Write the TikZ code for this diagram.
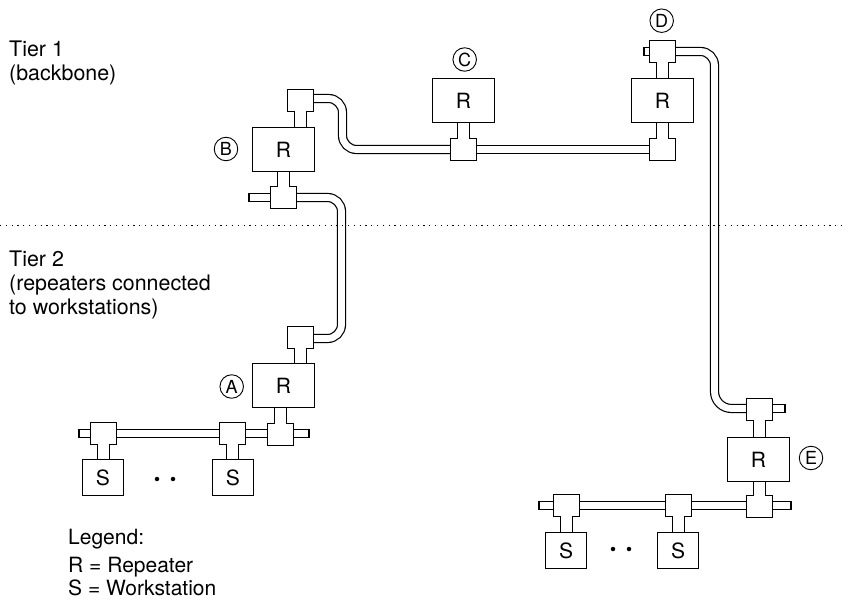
\documentclass[tikz,border=0pt]{standalone}
\usepackage{fontspec}
\setmainfont{TeX Gyre Heros}
\usetikzlibrary{backgrounds,calc}
\newcommand{\txtfont}{\fontsize{21}{24}\selectfont}
\newcommand{\tierfont}{\fontsize{21.4}{24}\selectfont}
\newcommand{\markfont}{\fontsize{18}{20}\selectfont}
\tikzset{
  x=1pt,y=-1pt,
  every node/.style={font=\txtfont},
  boxnode/.style={draw,fill=white,line width=1.2pt,minimum width=62pt,minimum height=44pt,inner sep=0pt},
  stationnode/.style={draw,fill=white,line width=1.2pt,minimum width=41pt,minimum height=36pt,inner sep=0pt},
  tapnode/.style={draw,fill=white,line width=1.2pt,minimum width=26pt,minimum height=22pt,inner sep=0pt},
  stubnode/.style={draw,fill=white,line width=1.2pt,minimum height=8pt,inner sep=0pt},
  cable/.style={draw,line width=1.2pt,double=white,double distance=6.8pt,rounded corners=#1},
  cable/.default=14pt,
  neckline/.style={draw,line width=1.2pt,double=white,double distance=10.8pt},
  neckpatch/.style={draw=white,line width=10.8pt},
  letter/.style={draw,circle,line width=.9pt,minimum size=23.5pt,inner sep=0pt,font=\markfont},
  tiertext/.style={align=left,anchor=base west,inner sep=0pt},
  divider/.style={line width=1.2pt,dash pattern=on 1.2pt off 4.6pt},
  dotnode/.style={fill,circle,minimum size=4.5pt,inner sep=0pt},
}
\newcommand{\neckjoin}[4]{%
  \begin{scope}[on background layer]
    \draw[neckline] (#1.#2) -- (#1.#2 |- #3.#4);
  \end{scope}
  \draw[neckpatch] ($(#1.#2)+(0,-1)$) -- ($(#1.#2)+(0,1)$);
}
\begin{document}
\begin{tikzpicture}
\useasboundingbox (0,0) rectangle (844,599);
% dotted tier divider
\coordinate (divL) at (0,225.5);
\coordinate (divR) at (844,225.5);
\draw[divider] (divL) -- (divR);
% stubs
\node[stubnode,minimum width=22pt] (stubB) at (260,197.5) {};
\node[stubnode,minimum width=12pt] (stubD) at (650,51.5) {};
\node[stubnode,minimum width=22pt] (stubE) at (774,408.5) {};
\node[stubnode,minimum width=22pt] (stubAl) at (90,433.5) {};
\node[stubnode,minimum width=22pt] (stubAr) at (298,433.5) {};
\node[stubnode,minimum width=22pt] (stubEl) at (550,505.5) {};
\node[stubnode,minimum width=22pt] (stubEr) at (780,505.5) {};
% repeaters
\node[boxnode] (rB) at (283.5,149.5) {R};
\node[boxnode] (rC) at (463.5,100.5) {R};
\node[boxnode] (rD) at (662.5,100.5) {R};
\node[boxnode] (rA) at (283.5,385.5) {R};
\node[boxnode] (rE) at (758.5,459.5) {R};
% workstations
\node[stationnode] (sA1) at (103,477.5) {S};
\node[stationnode] (sA2) at (233,477.5) {S};
\node[stationnode] (sE1) at (566,550.5) {S};
\node[stationnode] (sE2) at (678,550.5) {S};
% taps
\node[tapnode] (tBt) at (300.5,100.5) {};
\node[tapnode] (tBb) at (283.5,197.5) {};
\node[tapnode] (tC) at (463.5,149.5) {};
\node[tapnode] (tDb) at (662.5,149.5) {};
\node[tapnode] (tDt) at (662.5,51.5) {};
\node[tapnode] (tAt) at (300.5,337.5) {};
\node[tapnode] (tAb) at (280.5,434.5) {};
\node[tapnode] (tA1) at (103.5,433.5) {};
\node[tapnode] (tA2) at (232.5,433.5) {};
\node[tapnode] (tEt) at (759.5,409.5) {};
\node[tapnode] (tEb) at (759.5,506.5) {};
\node[tapnode] (tE1) at (566.5,505.5) {};
\node[tapnode] (tE2) at (678.5,505.5) {};
% necks
\neckjoin{tBt}{south}{rB}{north}
\neckjoin{tBb}{north}{rB}{south}
\neckjoin{tC}{north}{rC}{south}
\neckjoin{tDb}{north}{rD}{south}
\neckjoin{tDt}{south}{rD}{north}
\neckjoin{tAt}{south}{rA}{north}
\neckjoin{tAb}{north}{rA}{south}
\neckjoin{tEt}{south}{rE}{north}
\neckjoin{tEb}{north}{rE}{south}
\neckjoin{tA1}{south}{sA1}{north}
\neckjoin{tA2}{south}{sA2}{north}
\neckjoin{tE1}{south}{sE1}{north}
\neckjoin{tE2}{south}{sE2}{north}
% cables
\begin{scope}[on background layer]
  \draw[cable] (tBt.east |- 0,98.5) -- (342.5,98.5) -- (342.5,149.5) -- (tC.west);
  \draw[cable] (tC.east) -- (tDb.west);
  \draw[cable] (tBb.east |- 0,197.5) -- (341.5,197.5) -- (341.5,338.5) -- (tAt.east |- 0,338.5);
  \draw[cable] (tDt.east |- 0,51.5) -- (714.5,51.5) -- (714.5,300) [rounded corners=17pt] -- (714.5,408.5) -- (tEt.west |- 0,408.5);
  \draw[cable] (tA1.east) -- (tA2.west);
  \draw[cable] (tA2.east) -- (tA2.east -| tAb.west);
  \draw[cable] (tE1.east) -- (tE2.west);
  \draw[cable] (tE2.east) -- (tE2.east -| tEb.west);
\end{scope}
% letters
\node[letter] (lA) at (231.7,386.5) {A};
\node[letter] (lB) at (226,149) {B};
\node[letter] (lC) at (464.7,59.5) {C};
\node[letter] (lD) at (661.7,20.7) {D};
\node[letter] (lE) at (811,458) {E};
% ellipsis dots
\node[dotnode] (dA1) at (157,479) {};
\node[dotnode] (dA2) at (173,479) {};
\node[dotnode] (dE1) at (613,549) {};
\node[dotnode] (dE2) at (629,549) {};
% text
\node[tiertext,font=\tierfont] (t1) at (9,57) {Tier 1};
\node[tiertext,font=\tierfont] (t1b) at (9,81) {(backbone)};
\node[tiertext,font=\tierfont] (t2) at (9,266) {Tier 2};
\node[tiertext,font=\tierfont] (t2b) at (9,290) {(repeaters connected};
\node[tiertext,font=\tierfont] (t2c) at (9,314) {to workstations)};
\node[tiertext] (leg) at (68,544) {Legend:};
\node[tiertext] (leg2) at (68,572) {R = Repeater};
\node[tiertext] (leg3) at (68,595) {S = Workstation};
\end{tikzpicture}
\end{document}
